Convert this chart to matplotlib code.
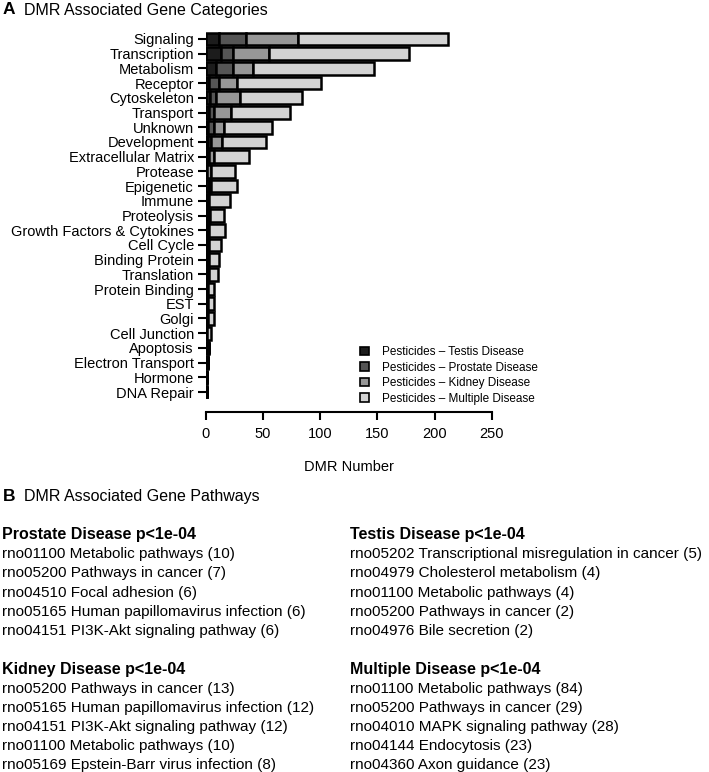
import numpy as np
import matplotlib
matplotlib.use('Agg')
import matplotlib.pyplot as plt
from matplotlib.patches import Patch

plt.rcParams['font.family'] = ['Liberation Sans', 'DejaVu Sans']

# gene categories, top to bottom
categories = ['Signaling', 'Transcription', 'Metabolism', 'Receptor', 'Cytoskeleton',
              'Transport', 'Unknown', 'Development', 'Extracellular Matrix', 'Protease',
              'Epigenetic', 'Immune', 'Proteolysis', 'Growth Factors & Cytokines',
              'Cell Cycle', 'Binding Protein', 'Translation', 'Protein Binding', 'EST',
              'Golgi', 'Cell Junction', 'Apoptosis', 'Electron Transport', 'Hormone',
              'DNA Repair']
testis = [12, 13, 9, 3, 4, 3, 2, 2, 1, 1, 3, 1, 1, 1, 1, 1, 1, 1, 1, 1, 1, 2, 2, 1, 1]
prostate = [23, 11, 15, 9, 5, 4, 5, 3, 2, 0, 1, 2, 2, 2, 2, 1, 2, 1, 1, 1, 0, 1, 0, 0, 0]
kidney = [46, 31, 17, 15, 21, 15, 9, 9, 4, 4, 1, 0, 1, 0, 0, 1, 0, 0, 0, 0, 0, 0, 0, 0, 0]
multiple = [131, 123, 106, 74, 54, 52, 42, 39, 31, 21, 22, 18, 12, 14, 10, 9, 8, 5, 5, 5, 4, 0, 0, 0, 0]

series_names = ['Pesticides \u2013 Testis Disease', 'Pesticides \u2013 Prostate Disease',
                'Pesticides \u2013 Kidney Disease', 'Pesticides \u2013 Multiple Disease']
series_colors = ['#1c1c1c', '#555555', '#979797', '#d3d3d3']

# pathway panel
prostate_paths = ['rno01100 Metabolic pathways (10)', 'rno05200 Pathways in cancer (7)',
                  'rno04510 Focal adhesion (6)', 'rno05165 Human papillomavirus infection (6)',
                  'rno04151 PI3K-Akt signaling pathway (6)']
testis_paths = ['rno05202 Transcriptional misregulation in cancer (5)',
                'rno04979 Cholesterol metabolism (4)', 'rno01100 Metabolic pathways (4)',
                'rno05200 Pathways in cancer (2)', 'rno04976 Bile secretion (2)']
kidney_paths = ['rno05200 Pathways in cancer (13)', 'rno05165 Human papillomavirus infection (12)',
                'rno04151 PI3K-Akt signaling pathway (12)', 'rno01100 Metabolic pathways (10)',
                'rno05169 Epstein-Barr virus infection (8)']
multiple_paths = ['rno01100 Metabolic pathways (84)', 'rno05200 Pathways in cancer (29)',
                  'rno04010 MAPK signaling pathway (28)', 'rno04144 Endocytosis (23)',
                  'rno04360 Axon guidance (23)']

W, H = 709, 772
fig = plt.figure(figsize=(W / 100, H / 100), dpi=100)

# bar panel placed in pixel terms
x0, x1 = 205.7, 491.7
ytop, ybot = 31.6, 399.4
ax = fig.add_axes([x0 / W, 1 - ybot / H, (x1 - x0) / W, (ybot - ytop) / H])

y = np.arange(len(categories))
left = np.zeros(len(categories))
for vals, name, col in zip([testis, prostate, kidney, multiple], series_names, series_colors):
    vals = np.array(vals, dtype=float)
    ax.barh(y, vals, left=left, height=0.86, color=col, edgecolor='black', linewidth=1.8)
    left += vals

ax.set_xlim(0, 250)
ax.set_ylim(len(categories) - 0.5, -0.5)
ax.set_yticks(y)
ax.set_yticklabels(categories, fontsize=10.5)
ax.set_xticks([0, 50, 100, 150, 200, 250])
ax.tick_params(axis='x', labelsize=10.5, length=6, width=1.5, pad=5)
ax.tick_params(axis='y', length=5.5, width=1.5, pad=3)
for s in ['top', 'right', 'left']:
    ax.spines[s].set_visible(False)
ax.spines['bottom'].set_position(('outward', 9))
ax.spines['bottom'].set_linewidth(1.5)
ax.spines['bottom'].set_bounds(0, 250)

handles = [Patch(facecolor=c, edgecolor='black', linewidth=1.2) for c in series_colors]
fig.legend(handles, series_names, loc='upper left', bbox_to_anchor=(360 / W, 1 - 346 / H),
           frameon=False, fontsize=8.5, handlelength=0.75, handleheight=0.75,
           handletextpad=1.1, labelspacing=0.3, borderpad=0, borderaxespad=0)

fig.text((x0 + x1) / 2 / W, 1 - 467 / H, 'DMR Number', ha='center', va='center', fontsize=10.5)

# panel titles
fig.text(3 / W, 1 - 10 / H, 'A', fontsize=12.5, fontweight='bold', va='center')
fig.text(24 / W, 1 - 10 / H, 'DMR Associated Gene Categories', fontsize=11.5, va='center')
fig.text(3 / W, 1 - 497 / H, 'B', fontsize=12.5, fontweight='bold', va='center')
fig.text(24 / W, 1 - 497 / H, 'DMR Associated Gene Pathways', fontsize=11.5, va='center')

# pathway lists
line = 19.2
blocks = [(2, 535, 'Prostate Disease p<1e-04', prostate_paths),
          (350, 535, 'Testis Disease p<1e-04', testis_paths),
          (2, 535 + 7 * line, 'Kidney Disease p<1e-04', kidney_paths),
          (350, 535 + 7 * line, 'Multiple Disease p<1e-04', multiple_paths)]
for bx, by, head, items in blocks:
    fig.text(bx / W, 1 - by / H, head, fontsize=11.5, fontweight='bold', va='center')
    for i, txt in enumerate(items):
        fig.text(bx / W, 1 - (by + (i + 1) * line) / H, txt, fontsize=11, va='center')

fig.savefig('out.png', dpi=100)
